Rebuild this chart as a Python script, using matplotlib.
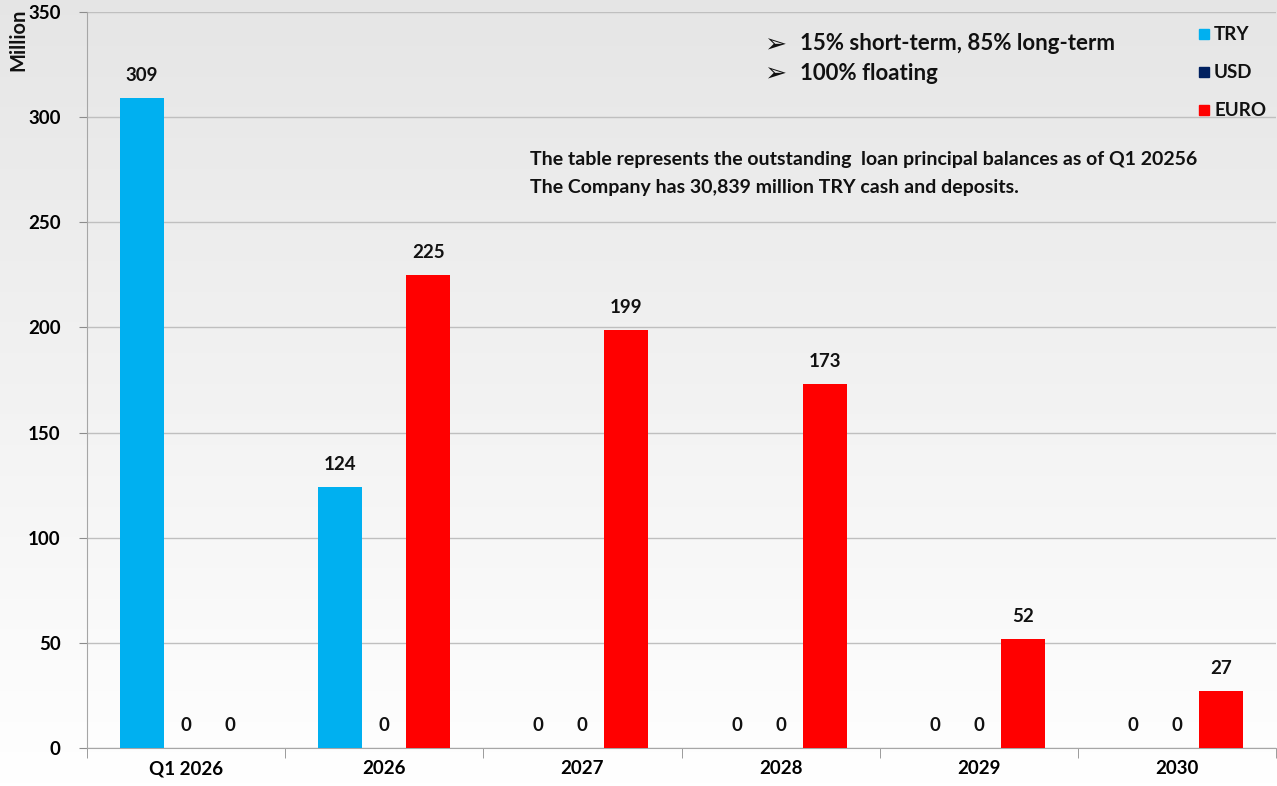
import numpy as np
import matplotlib
matplotlib.use("Agg")
import matplotlib.pyplot as plt
from matplotlib.patches import Rectangle

plt.rcParams["font.family"] = ["Lato", "DejaVu Sans"]
plt.rcParams["font.weight"] = "bold"

# ── Data ──────────────────────────────────────────────────────────────────────
categories = ["Q1 2026", "2026", "2027", "2028", "2029", "2030"]
try_vals = [309, 124, 0, 0, 0, 0]
usd_vals = [0, 0, 0, 0, 0, 0]
euro_vals = [0, 225, 199, 173, 52, 27]

series = [("TRY", try_vals, "#00B0F0"),
          ("USD", usd_vals, "#002060"),
          ("EURO", euro_vals, "#FF0000")]

notes = ["15% short-term, 85% long-term", "100% floating"]
info = ["The table represents the outstanding  loan principal balances as of Q1 20256",
        "The Company has 30,839 million TRY cash and deposits."]

# ── Figure ────────────────────────────────────────────────────────────────────
W, H = 1277, 786
fig = plt.figure(figsize=(W / 100, H / 100), dpi=100)

# soft grey-to-white background
bg = fig.add_axes([0, 0, 1, 1], zorder=-10)
grad = np.linspace(0.90, 1.0, 256).reshape(-1, 1)
bg.imshow(np.dstack([grad, grad, grad]), aspect="auto", extent=[0, 1, 0, 1])
bg.axis("off")

ax = fig.add_axes([87 / W, 1 - 748 / H, (1276 - 87) / W, (748 - 12) / H])
ax.patch.set_alpha(0)

x = np.arange(len(categories))
bw = 0.222
for i, (name, vals, color) in enumerate(series):
    pos = x + (i - 1) * bw
    ax.bar(pos, vals, width=bw, color=color, label=name, zorder=3)
    for p, v in zip(pos, vals):
        ax.annotate(f"{v}", (p, v), xytext=(0, 10), textcoords="offset points",
                    ha="center", va="bottom", fontsize=13.5, fontweight="bold",
                    color="#111111")

ax.set_xlim(-0.5, len(categories) - 0.5)
ax.set_ylim(0, 350)
ax.set_yticks(np.arange(0, 351, 50))
ax.grid(axis="y", color="#bfbfbf", linewidth=1.0, zorder=0)
ax.set_axisbelow(True)

ax.set_xticks(x)
ax.set_xticklabels(categories, fontsize=13.5, fontweight="bold")
ax.set_xticks(np.arange(-0.5, len(categories), 1), minor=True)
ax.tick_params(axis="x", which="major", length=0, pad=9)
ax.tick_params(axis="x", which="minor", length=7, color="#8c8c8c", direction="out")
ax.tick_params(axis="y", length=6, color="#8c8c8c", pad=13, labelsize=13.5)
for lab in ax.get_yticklabels():
    lab.set_fontweight("bold")

for s in ["top", "right"]:
    ax.spines[s].set_visible(False)
ax.spines["left"].set_color("#a6a6a6")
ax.spines["bottom"].set_color("#a6a6a6")

fig.text(18 / W, 1 - 40 / H, "Million", rotation=90, ha="center", va="center",
         fontsize=14.5, fontweight="bold", color="#111111")

# bullet notes
for k, t in enumerate(notes):
    yc = 1 - (44 + k * 29) / H
    fig.text(764 / W, yc, "\u27a2", ha="left", va="center",
             fontsize=19, color="#111111")
    fig.text(800 / W, yc, t, ha="left", va="center",
             fontsize=16, fontweight="bold", color="#111111")

for k, t in enumerate(info):
    fig.text(530 / W, 1 - (160 + k * 27) / H, t, ha="left", va="center",
             fontsize=14, fontweight="bold", color="#111111")

# legend
for k, (name, _, color) in enumerate(series):
    yc = 1 - (34 + k * 38) / H
    fig.patches.append(Rectangle((1199 / W, yc - 5 / H), 10 / W, 10 / H,
                                 transform=fig.transFigure, color=color))
    fig.text(1214 / W, yc, name, ha="left", va="center", fontsize=13.5,
             fontweight="bold", color="#111111")

fig.savefig("out.png", dpi=100)
